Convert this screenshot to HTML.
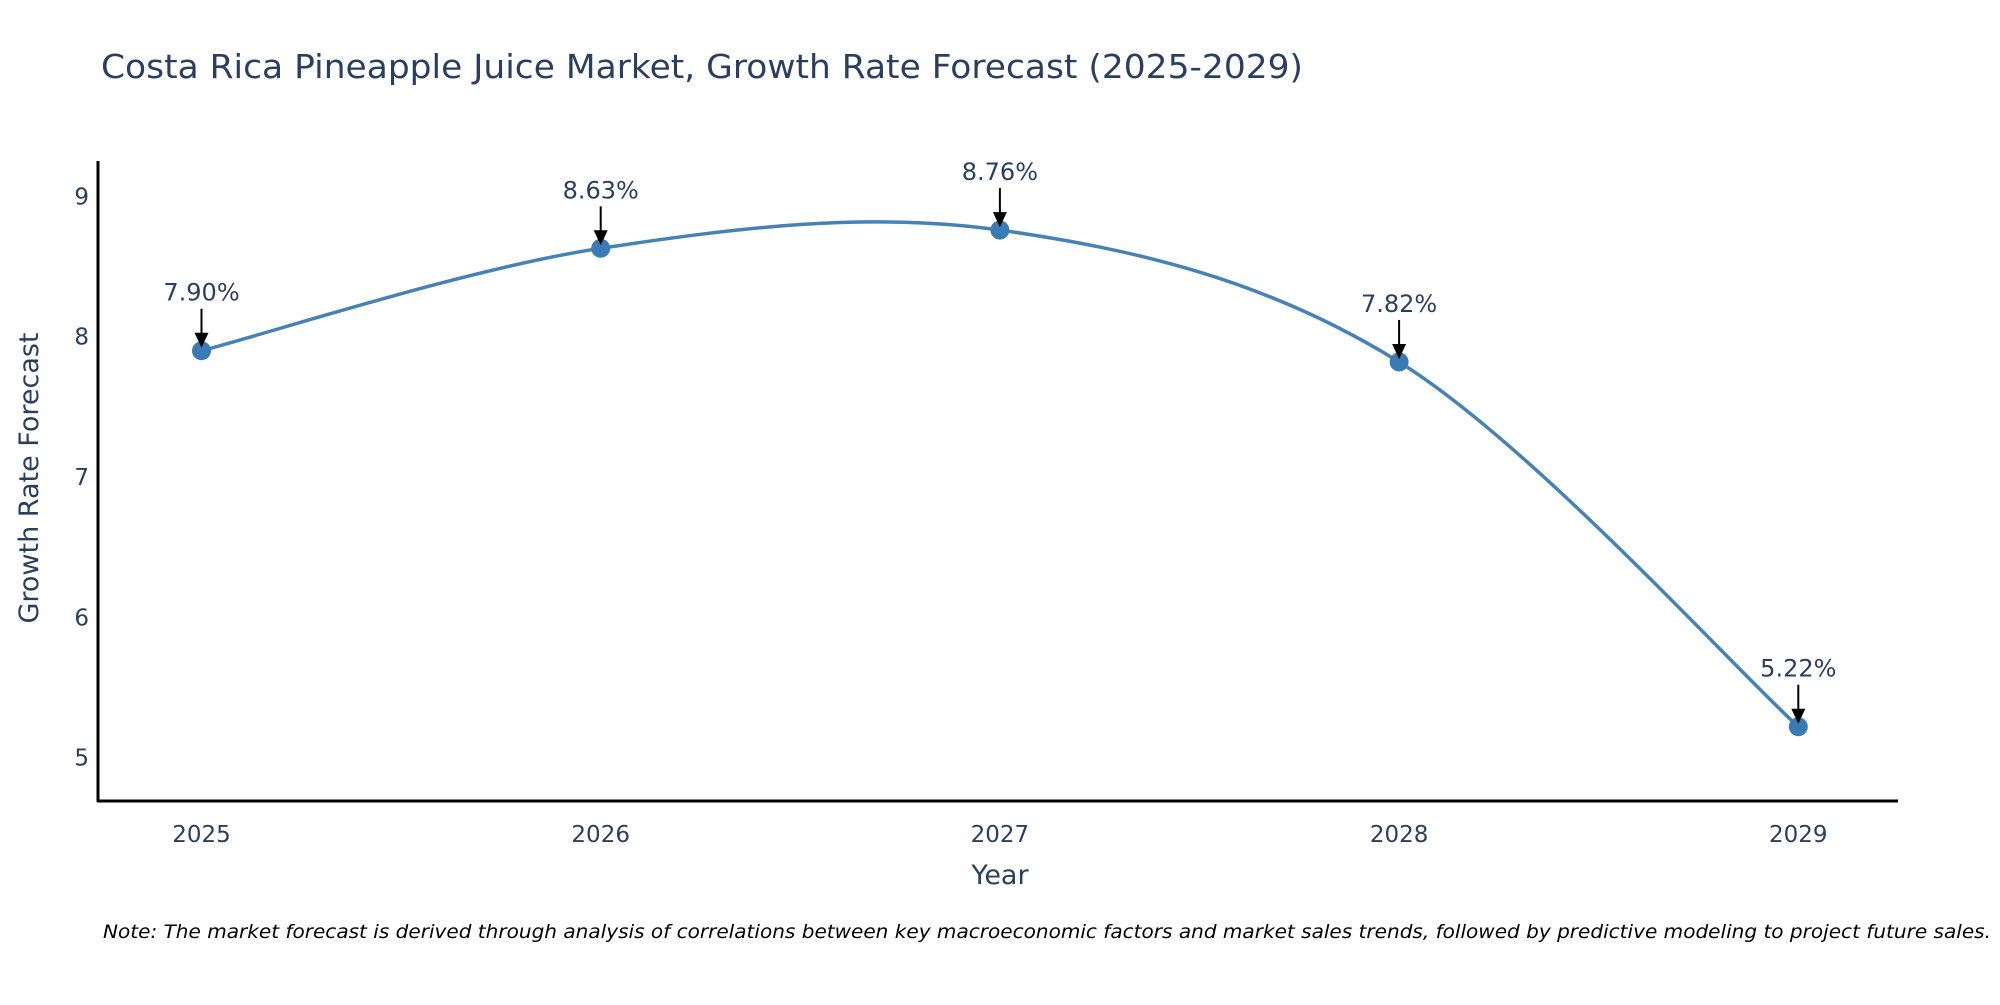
<!DOCTYPE html>
<html><head><meta charset="utf-8"><style>
body{margin:0;background:#fff;}
svg text{font-family:"DejaVu Sans","Liberation Sans",sans-serif;}
</style></head><body>
<svg id="chart" width="2000" height="1000" viewBox="0 0 2000 1000" xmlns="http://www.w3.org/2000/svg">
<text x="101" y="78" font-size="33" fill="#2a3f5f" textLength="1202" lengthAdjust="spacingAndGlyphs">Costa Rica Pineapple Juice Market, Growth Rate Forecast (2025-2029)</text>
<g id="ticks"></g>
<path id="line" fill="none" stroke="#4682b4" stroke-width="3.5"/>
<g id="marks"></g>
<line x1="98" y1="161" x2="98" y2="802" stroke="#000" stroke-width="3"/>
<line x1="97" y1="801" x2="1898" y2="801" stroke="#000" stroke-width="3"/>
<text x="1000" y="884" font-size="27" fill="#2a3f5f" text-anchor="middle">Year</text>
<text x="0" y="0" font-size="27" fill="#2a3f5f" text-anchor="middle" transform="translate(38,478) rotate(-90)">Growth Rate Forecast</text>
<text x="1991" y="938" font-size="19" font-style="italic" fill="#000" text-anchor="end" textLength="1888" lengthAdjust="spacingAndGlyphs">Note: The market forecast is derived through analysis of correlations between key macroeconomic factors and market sales trends, followed by predictive modeling to project future sales.</text>
</svg>
<script>
const years=[2025,2026,2027,2028,2029];
const values=[7.90,8.63,8.76,7.82,5.22];
const labels=["7.90%","8.63%","8.76%","7.82%","5.22%"];
const yTicks=[5,6,7,8,9];
const NS="http://www.w3.org/2000/svg";
function xs(v){return 201.5+(v-2025)*399.2;}
function ys(v){return 196.4+(9-v)*140.3;}
const tg=document.getElementById('ticks');
yTicks.forEach(t=>{const e=document.createElementNS(NS,'text');
e.setAttribute('x',89);e.setAttribute('y',ys(t)+8);e.setAttribute('font-size',23);e.setAttribute('fill','#2a3f5f');e.setAttribute('text-anchor','end');e.textContent=t;


tg.appendChild(e);});
years.forEach(t=>{const e=document.createElementNS(NS,'text');
e.setAttribute('x',xs(t));e.setAttribute('y',842);e.setAttribute('font-size',23);e.setAttribute('fill','#2a3f5f');e.setAttribute('text-anchor','middle');e.textContent=t;


tg.appendChild(e);});
const P=years.map((y,i)=>[xs(y),ys(values[i])]);
let d='M'+P[0][0]+','+P[0][1];const s=1/6;
for(let i=0;i<P.length-1;i++){const p0=P[i-1]||P[i],p1=P[i],p2=P[i+1],p3=P[i+2]||P[i+1];
const c1=[p1[0]+(p2[0]-p0[0])*s,p1[1]+(p2[1]-p0[1])*s],c2=[p2[0]-(p3[0]-p1[0])*s,p2[1]-(p3[1]-p1[1])*s];
d+=' C'+c1+' '+c2+' '+p2;}
document.getElementById('line').setAttribute('d',d);
const mg=document.getElementById('marks');
P.forEach((p,i)=>{const c=document.createElementNS(NS,'circle');
c.setAttribute('cx',p[0]);c.setAttribute('cy',p[1]);c.setAttribute('r',9.5);c.setAttribute('fill','#3a7bb5');


mg.appendChild(c);
const l=document.createElementNS(NS,'line');
l.setAttribute('x1',p[0]);l.setAttribute('y1',p[1]-42);l.setAttribute('x2',p[0]);l.setAttribute('y2',p[1]-14);l.setAttribute('stroke','#000');l.setAttribute('stroke-width',2);


mg.appendChild(l);
const h=document.createElementNS(NS,'path');
h.setAttribute('d','M'+(p[0]-7)+','+(p[1]-18)+' L'+(p[0]+7)+','+(p[1]-18)+' L'+p[0]+','+(p[1]-3)+' z');h.setAttribute('fill','#000');


mg.appendChild(h);
const t=document.createElementNS(NS,'text');
t.setAttribute('x',p[0]);t.setAttribute('y',p[1]-50);t.setAttribute('font-size',24);t.setAttribute('fill','#2a3f5f');t.setAttribute('text-anchor','middle');t.textContent=labels[i];


mg.appendChild(t);});
</script>
</body></html>
